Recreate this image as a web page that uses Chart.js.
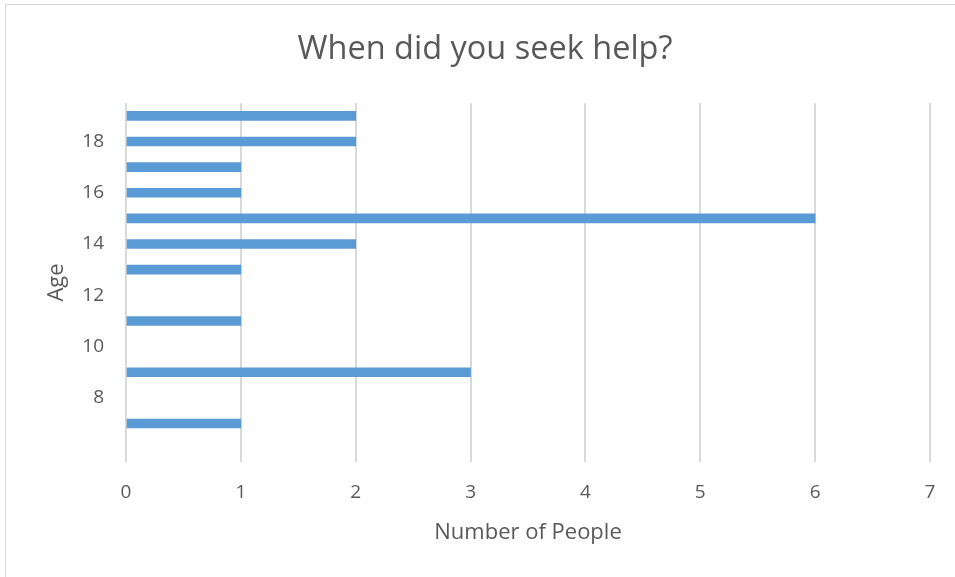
<!DOCTYPE html>
<html>
<head>
<meta charset="utf-8">
<script src="https://cdn.jsdelivr.net/npm/chart.js@4/dist/chart.umd.min.js"></script>
<style>
  html, body { margin: 0; padding: 0; background: #fff; }
  #wrap { position: relative; width: 955px; height: 577px; overflow: hidden; }
  #frame { position: absolute; left: 5px; top: 4px; width: 960px; height: 580px; border: 1px solid #d9d9d9; box-sizing: border-box; }
  canvas { position: absolute; left: 0; top: 0; }
</style>
</head>
<body>
<div id="wrap">
  <div id="frame"></div>
  <canvas id="grafico" width="955" height="577"></canvas>
</div>
<script>
const ages = [7, 9, 11, 13, 14, 15, 16, 17, 18, 19];
const people = [1, 3, 1, 1, 2, 6, 1, 1, 2, 2];
const ageTicks = [8, 10, 12, 14, 16, 18];
const peopleTicks = [0, 1, 2, 3, 4, 5, 6, 7];

const TEXT_COLOR = '#595959';
const FONT = 'Open Sans';

new Chart(document.getElementById('grafico'), {
  type: 'bar',
  data: {
    datasets: [{
      label: 'Number of People',
      data: ages.map((a, i) => ({ x: people[i], y: a })),
      backgroundColor: '#5b9bd5',
      barThickness: 9,
    }],
  },
  options: {
    indexAxis: 'y',
    responsive: false,
    animation: false,
    layout: { padding: { left: 40, right: 25, bottom: 12 } },
    plugins: {
      legend: { display: false },
      tooltip: { enabled: false },
      title: {
        display: true,
        text: 'When did you seek help?',
        color: TEXT_COLOR,
        font: { family: FONT, size: 32.5, weight: 'normal' },
        padding: { top: 30, bottom: 34 },
      },
    },
    scales: {
      x: {
        type: 'linear',
        min: 0,
        max: 7,
        afterBuildTicks: (scale) => { scale.ticks = peopleTicks.map((v) => ({ value: v })); },
        afterFit: (scale) => { scale.height = 103; },
        grid: { color: '#d9d9d9', lineWidth: 2, drawTicks: false },
        border: { display: false },
        ticks: { color: TEXT_COLOR, font: { family: FONT, size: 19 }, padding: 19 },
        title: {
          display: true,
          text: 'Number of People',
          color: TEXT_COLOR,
          font: { family: FONT, size: 22 },
          padding: { top: 0, bottom: 19 },
        },
      },
      y: {
        type: 'linear',
        min: 5.5,
        max: 19.5,
        offset: false,
        afterBuildTicks: (scale) => { scale.ticks = ageTicks.map((v) => ({ value: v })); },
        afterFit: (scale) => { scale.width = 86; },
        grid: { display: false, drawTicks: false },
        border: { display: false },
        ticks: { color: TEXT_COLOR, font: { family: FONT, size: 19 }, padding: 22 },
        title: {
          display: true,
          text: 'Age',
          color: TEXT_COLOR,
          font: { family: FONT, size: 22 },
          padding: { top: 4, bottom: 0 },
        },
      },
    },
  },
});
</script>
</body>
</html>
